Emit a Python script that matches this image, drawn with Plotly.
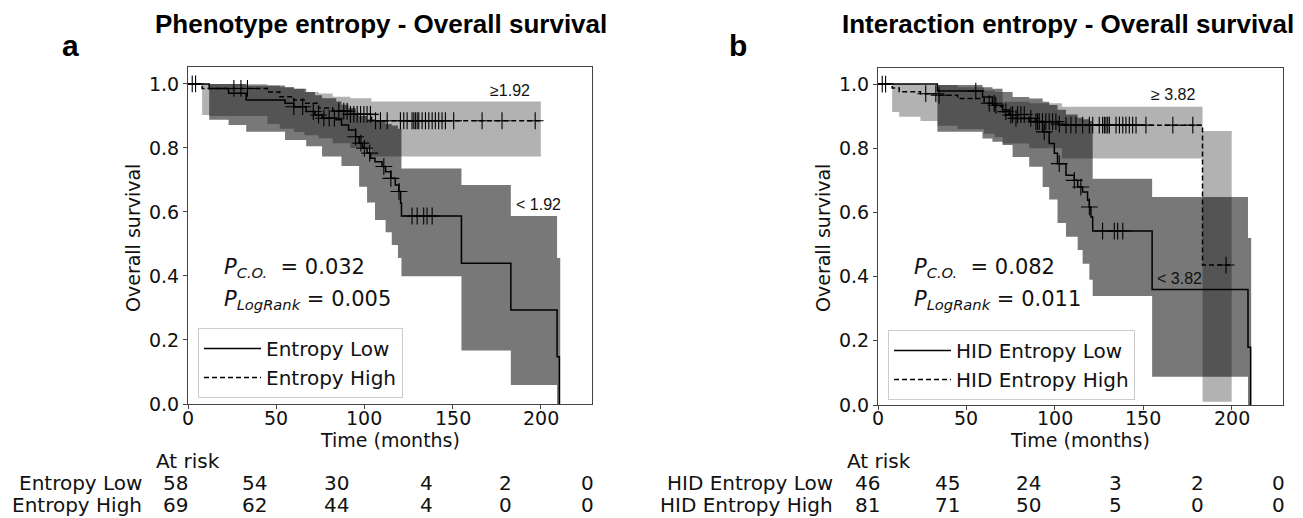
import numpy as np
import plotly.graph_objects as go

W, H = 1303, 518

# ---------------- DATA ----------------
# Panel a: Phenotype entropy
a_low_t = [0, 12, 23, 33, 55, 60, 67, 72, 76, 84, 87, 91, 95, 97, 99, 101.5, 103.5, 106, 110, 112, 115, 117.5, 119.5, 120.5, 121, 155, 183, 209.2, 210.5]
a_low_s = [1.0, 0.986, 0.971, 0.950, 0.94, 0.929, 0.914, 0.903, 0.893, 0.888, 0.872, 0.856, 0.835, 0.815, 0.799, 0.784, 0.768, 0.757, 0.742, 0.726, 0.705, 0.684, 0.664, 0.627, 0.5875, 0.44, 0.294, 0.148, 0.0]
a_low_cens = [60, 65, 71, 74, 77, 80, 83, 95, 98, 100, 103, 111, 115, 119.6, 127.0, 129.9, 133.6, 135.5, 138.4]

a_high_t = [0, 8, 45, 52, 60, 66, 74, 82, 92, 104, 200]
a_high_s = [1.0, 0.986, 0.975, 0.96, 0.95, 0.94, 0.925, 0.915, 0.905, 0.885, 0.885]
a_high_cens = [2.4, 4.3, 26, 30, 33.7, 85.5, 88.3, 90.2, 92.1, 94.0, 95.9, 97.8, 99.7, 101.5, 103.4,
               106.3, 109.1, 112.9, 120.4, 122.3, 124.2, 127.0, 128.0, 128.9, 129.9, 130.8, 132.7, 134.6,
               136.5, 138.4, 140.2, 142.1, 144.0, 145.9, 150.6, 166.7, 178.0, 196.8]

a_lowci_t = [12, 23, 33, 55, 60, 67, 72, 76, 84, 87, 91, 95, 97, 101.5, 106, 112, 115.5, 119, 121, 155, 183, 209.2, 211]
a_lowci_lo = [0.888, 0.872, 0.851, 0.825, 0.825, 0.805, 0.805, 0.773, 0.773, 0.744, 0.744, 0.744, 0.679, 0.63, 0.575, 0.537, 0.497, 0.456, 0.399, 0.167, 0.059, 0.0, 0.0]
a_lowci_hi = [1.0, 1.0, 0.995, 0.99, 0.985, 0.975, 0.965, 0.955, 0.945, 0.935, 0.925, 0.91, 0.90, 0.89, 0.885, 0.875, 0.87, 0.86, 0.736, 0.684, 0.5875, 0.456, 0.456]

a_highci_t = [8, 12, 45, 52, 60, 66, 74, 82, 92, 104, 200]
a_highci_lo = [0.903, 0.90, 0.875, 0.86, 0.85, 0.84, 0.83, 0.815, 0.80, 0.773, 0.773]
a_highci_hi = [1.0, 1.0, 0.995, 0.99, 0.985, 0.975, 0.97, 0.96, 0.955, 0.945, 0.945]

# Panel b: Interaction entropy
b_low_t = [0, 33.6, 59.1, 64.7, 70.4, 74.2, 76.1, 85.5, 93.1, 96.8, 99.7, 101.5, 106.3, 111.0, 112.9, 115.7, 118.5, 119.5, 120.4, 121.4, 155, 209.2, 210.7]
b_low_s = [1.0, 0.978, 0.960, 0.934, 0.919, 0.903, 0.893, 0.883, 0.851, 0.815, 0.784, 0.752, 0.716, 0.700, 0.679, 0.664, 0.638, 0.617, 0.586, 0.542, 0.36, 0.18, 0.0]
b_low_cens = [2.4, 55.3, 66.6, 75.1, 78.0, 90.2, 94.0, 102.5, 111.0, 114.7, 119.5, 127.0, 133.6, 135.5, 138.4]

b_high_t = [0, 8, 12, 24, 33.6, 45, 60, 66, 70.5, 74, 85.5, 89, 102, 104, 183.5, 200]
b_high_s = [1.0, 0.988, 0.976, 0.97, 0.965, 0.955, 0.94, 0.93, 0.914, 0.905, 0.893, 0.883, 0.875, 0.872, 0.436, 0.436]
b_high_cens = [4.3, 27.0, 32.7, 34.5, 62.9, 65.7, 72.3, 76.1, 78.9, 80.8, 82.7, 86.4, 89.3, 91.2, 93.0, 94.9,
               96.8, 98.7, 100.6, 102.5, 106.3, 109.1, 111.9, 115.7, 119.5, 121.4, 125.1, 127.0, 128.0, 128.9,
               129.9, 130.8, 134.6, 136.5, 138.4, 140.2, 142.1, 144.0, 145.9, 151.5, 166.7, 178.0, 196.8]

b_lowci_t = [33.6, 59.1, 64.7, 70.4, 76.1, 85.5, 93.1, 96.8, 101.5, 106.3, 112.9, 115.7, 119.5, 121.4, 155, 209.2, 211]
b_lowci_lo = [0.851, 0.830, 0.82, 0.81, 0.773, 0.742, 0.679, 0.64, 0.567, 0.524, 0.483, 0.44, 0.39, 0.34, 0.088, 0.0, 0.0]
b_lowci_hi = [0.997, 0.99, 0.985, 0.975, 0.96, 0.955, 0.945, 0.935, 0.92, 0.905, 0.895, 0.89, 0.885, 0.705, 0.648, 0.52, 0.52]

b_highci_t = [8, 12, 24, 33.6, 45, 60, 66, 70.5, 85.5, 104, 183.5, 200]
b_highci_lo = [0.913, 0.898, 0.885, 0.87, 0.86, 0.845, 0.835, 0.815, 0.80, 0.768, 0.01, 0.01]
b_highci_hi = [1.0, 1.0, 0.998, 0.997, 0.99, 0.98, 0.975, 0.945, 0.94, 0.929, 0.854, 0.854]

# At-risk table
a_risk_low = [58, 54, 30, 4, 2, 0]
a_risk_high = [69, 62, 44, 4, 0, 0]
b_risk_low = [46, 45, 24, 3, 2, 0]
b_risk_high = [81, 71, 50, 5, 0, 0]

x_ticks = [0, 50, 100, 150, 200]
y_ticks = [0.0, 0.2, 0.4, 0.6, 0.8, 1.0]

a_names = ["Entropy Low", "Entropy High"]
b_names = ["HID Entropy Low", "HID Entropy High"]
a_title = "Phenotype entropy - Overall survival"
b_title = "Interaction entropy - Overall survival"
a_cut = ["≥1.92", "< 1.92"]
b_cut = ["≥ 3.82", "< 3.82"]
a_p = ["0.032", "0.005"]
b_p = ["0.082", "0.011"]

# ---------------- LAYOUT CONSTANTS ----------------
FONT = "DejaVu Sans"
C_LOW_BAND = "rgba(0,0,0,0.53)"
C_HIGH_BAND = "rgba(0,0,0,0.30)"
AX_COL = "#444444"
OFF = 8  # page body margin


def px(x):
    return (x - OFF) / W


def py(y):
    return 1 - (y - OFF) / H


def step_val(ts, ss, t):
    i = int(np.searchsorted(np.array(ts), t, side="right")) - 1
    return ss[max(i, 0)]


fig = go.Figure()

panels = [
    dict(xa="x", ya="y", leg="legend",
         low=(a_low_t, a_low_s, a_low_cens), high=(a_high_t, a_high_s, a_high_cens),
         lowci=(a_lowci_t, a_lowci_lo, a_lowci_hi), highci=(a_highci_t, a_highci_lo, a_highci_hi),
         names=a_names),
    dict(xa="x2", ya="y2", leg="legend2",
         low=(b_low_t, b_low_s, b_low_cens), high=(b_high_t, b_high_s, b_high_cens),
         lowci=(b_lowci_t, b_lowci_lo, b_lowci_hi), highci=(b_highci_t, b_highci_lo, b_highci_hi),
         names=b_names),
]

for p in panels:
    for ci, col in ((p["highci"], C_HIGH_BAND), (p["lowci"], C_LOW_BAND)):
        t, lo, hi = ci
        fig.add_trace(go.Scatter(x=t, y=hi, mode="lines", line=dict(width=0, shape="hv"),
                                 showlegend=False, hoverinfo="skip", xaxis=p["xa"], yaxis=p["ya"]))
        fig.add_trace(go.Scatter(x=t, y=lo, mode="lines", line=dict(width=0, shape="hv"),
                                 fill="tonexty", fillcolor=col,
                                 showlegend=False, hoverinfo="skip", xaxis=p["xa"], yaxis=p["ya"]))
    for (t, s, cens), dash, name in ((p["low"], "solid", p["names"][0]), (p["high"], "5px,3px", p["names"][1])):
        fig.add_trace(go.Scatter(x=t, y=s, mode="lines", name=name,
                                 line=dict(color="black", width=1.5, shape="hv", dash=dash),
                                 legend=p["leg"], xaxis=p["xa"], yaxis=p["ya"]))
        cy = [step_val(t, s, c) for c in cens]
        fig.add_trace(go.Scatter(x=cens, y=cy, mode="markers", showlegend=False,
                                 marker=dict(symbol="cross-thin", size=12, color="black",
                                             line=dict(width=1.1, color="black")),
                                 xaxis=p["xa"], yaxis=p["ya"]))

axis_common = dict(showgrid=False, zeroline=False, showline=True, mirror=True, linecolor=AX_COL,
                   linewidth=1, ticks="outside", ticklen=4, tickcolor=AX_COL, automargin=False,
                   tickfont=dict(family=FONT, size=19, color="#111"))

leg_common = dict(xanchor="left", yanchor="top", bgcolor="rgba(255,255,255,0.8)",
                  bordercolor="#cccccc", borderwidth=1, font=dict(family=FONT, size=20, color="#111"),
                  tracegroupgap=0, traceorder="normal", itemwidth=57)

fig.update_layout(
    width=W, height=H, margin=dict(l=0, r=0, t=0, b=0, autoexpand=False),
    paper_bgcolor="white", plot_bgcolor="white",
    xaxis=dict(domain=[px(188), px(592)], range=[0, 229], tickvals=x_ticks, showticklabels=False,
               anchor="y", **axis_common),
    yaxis=dict(domain=[py(404), py(67)], range=[0, 1.053], tickvals=y_ticks,
               tickformat=".1f", anchor="x", **axis_common),
    xaxis2=dict(domain=[px(878), px(1283)], range=[0, 229], tickvals=x_ticks, showticklabels=False,
                anchor="y2", **axis_common),
    yaxis2=dict(domain=[py(405), py(68)], range=[0, 1.05], tickvals=y_ticks,
                tickformat=".1f", anchor="x2", **axis_common),
    legend=dict(x=px(198), y=py(328), **leg_common),
    legend2=dict(x=px(888), y=py(330), **leg_common),
)

ann = []
TF = dict(family="Liberation Sans", size=26, color="black")
ann.append(dict(x=px(381), y=py(24), text=f"<b>{a_title}</b>", font=TF))
ann.append(dict(x=px(1068), y=py(24), text=f"<b>{b_title}</b>", font=TF))
ann.append(dict(x=px(70), y=py(46), text="<b>a</b>", font=dict(family="Liberation Sans", size=30, color="black")))
ann.append(dict(x=px(738), y=py(46), text="<b>b</b>", font=dict(family="Liberation Sans", size=30, color="black")))
for cx in (133, 823):
    ann.append(dict(x=px(cx), y=py(238), text="Overall survival", textangle=-90,
                    font=dict(family=FONT, size=19, color="#111")))
for cx in (390, 1080):
    ann.append(dict(x=px(cx), y=py(440), text="Time (months)", font=dict(family=FONT, size=19, color="#111")))
for a in ann:
    a.update(xref="paper", yref="paper", showarrow=False, xanchor="center", yanchor="middle")

# x tick labels (placed via each x axis)
for xr in ("x", "x2"):
    for tv in x_ticks:
        ann.append(dict(x=tv, y=py(418), xref=xr, yref="paper", text=str(tv), showarrow=False,
                        xanchor="center", yanchor="middle", font=dict(family=FONT, size=19, color="#111")))

data_ann = [
    dict(x=182.3, y=0.98, text=a_cut[0], xref="x", yref="y"),
    dict(x=198.8, y=0.622, text=a_cut[1], xref="x", yref="y"),
    dict(x=167, y=0.966, text=b_cut[0], xref="x2", yref="y2"),
    dict(x=170.4, y=0.393, text=b_cut[1], xref="x2", yref="y2"),
]
for a in data_ann:
    a.update(showarrow=False, font=dict(family="Liberation Sans", size=16, color="#111"),
             xanchor="center", yanchor="middle")
    ann.append(a)

for (pv, xr, yr, ys) in ((a_p, "x", "y", (0.425, 0.325)), (b_p, "x2", "y2", (0.427, 0.327))):
    ann.append(dict(x=19.3, y=ys[0], xref=xr, yref=yr, showarrow=False, xanchor="left", yanchor="middle",
                    text=f"<i>P</i><sub><i>C.O.</i></sub>  = {pv[0]}", font=dict(family=FONT, size=21, color="#111")))
    ann.append(dict(x=19.3, y=ys[1], xref=xr, yref=yr, showarrow=False, xanchor="left", yanchor="middle",
                    text=f"<i>P</i><sub><i>LogRank</i></sub> = {pv[1]}", font=dict(family=FONT, size=21, color="#111")))

a_cols = [175, 255, 337, 427, 505, 587]
b_cols = [867, 947, 1028, 1115, 1197, 1278]
table_ann = []
tf = dict(family=FONT, size=20, color="#111")
for names, cols, lowv, highv, lab_r, atr_x in ((a_names, a_cols, a_risk_low, a_risk_high, 143, 155),
                                                (b_names, b_cols, b_risk_low, b_risk_high, 834, 846)):
    table_ann.append(dict(x=px(atr_x), y=py(461), text="At risk", xanchor="left", font=tf))
    table_ann.append(dict(x=px(lab_r), y=py(483), text=names[0], xanchor="right", font=tf))
    table_ann.append(dict(x=px(lab_r), y=py(505), text=names[1], xanchor="right", font=tf))
    for cx, v1, v2 in zip(cols, lowv, highv):
        table_ann.append(dict(x=px(cx), y=py(483), text=str(v1), xanchor="center", font=tf))
        table_ann.append(dict(x=px(cx), y=py(505), text=str(v2), xanchor="center", font=tf))
for a in table_ann:
    a.update(xref="paper", yref="paper", showarrow=False, yanchor="middle", borderpad=0)
ann.extend(table_ann)

fig.update_layout(annotations=ann)
fig.write_html("out.html")
